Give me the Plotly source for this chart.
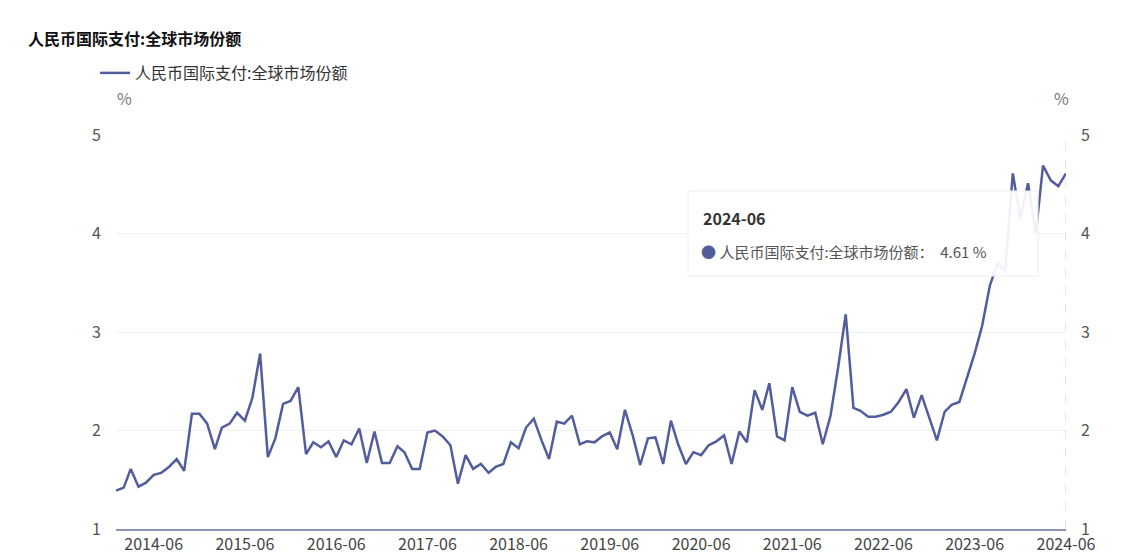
import plotly.graph_objects as go
import pandas as pd

months = pd.date_range("2014-01-01", "2024-06-01", freq="MS").strftime("%Y-%m-%d").tolist()
share = [
1.39,1.42,1.61,1.43,1.47,1.55,1.57,1.63,1.71,1.59,2.17,2.17,
2.07,1.81,2.03,2.07,2.18,2.10,2.33,2.78,1.73,1.92,2.27,2.30,
2.44,1.76,1.88,1.83,1.89,1.73,1.90,1.86,2.02,1.67,1.99,1.67,
1.67,1.84,1.78,1.61,1.61,1.98,2.00,1.94,1.85,1.46,1.75,1.61,
1.66,1.57,1.63,1.66,1.88,1.82,2.03,2.12,1.90,1.71,2.09,2.07,
2.15,1.86,1.89,1.88,1.94,1.98,1.81,2.21,1.95,1.65,1.92,1.93,
1.66,2.10,1.86,1.66,1.78,1.75,1.85,1.89,1.95,1.66,1.99,1.88,
2.41,2.21,2.48,1.94,1.90,2.44,2.19,2.15,2.18,1.86,2.15,2.63,
3.18,2.23,2.20,2.14,2.14,2.16,2.19,2.29,2.42,2.13,2.36,2.14,
1.90,2.19,2.26,2.29,2.54,2.78,3.06,3.47,3.70,3.62,4.61,4.15,
4.51,4.00,4.69,4.54,4.48,4.61]
tick_vals = [f"{y}-06-01" for y in range(2014, 2025)]
tick_text = [f"{y}-06" for y in range(2014, 2025)]
name = "人民币国际支付:全球市场份额"

fig = go.Figure()
fig.add_trace(go.Scatter(x=months, y=share, mode="lines", name=name,
                         line=dict(color="#515d9c", width=2.5)))
fig.add_trace(go.Scatter(x=months, y=share, yaxis="y2", mode="lines", showlegend=False,
                         line=dict(width=0), hoverinfo="skip", opacity=0))
fig.add_shape(type="line", x0=months[-1], x1=months[-1], y0=1, y1=5, xref="x", yref="y",
              line=dict(color="#b8cdf0", width=1, dash="dash"))

fnt = "Noto Sans CJK SC, sans-serif"
ax = dict(range=[1, 5], tickvals=[1, 2, 3, 4, 5], showline=False, zeroline=False,
          gridcolor="#eef0f6", tickfont=dict(size=16, color="#555"), ticks="",
          automargin=False)
fig.update_layout(
    width=1140, height=559, margin=dict(l=108, r=82, t=127, b=38, autoexpand=False),
    plot_bgcolor="white", paper_bgcolor="white", font=dict(family=fnt, color="#333"),
    xaxis=dict(range=[months[0], months[-1]], tickvals=tick_vals, ticktext=tick_text,
               showgrid=False, showline=True, linecolor="#8a93b8", linewidth=2,
               ticks="", tickfont=dict(size=16, color="#444"), automargin=False),
    yaxis=dict(**ax, ticklabelstandoff=14),
    yaxis2=dict(**ax, overlaying="y", side="right", showgrid=False, ticklabelstandoff=14),
    showlegend=True,
    legend=dict(x=-0.022, y=(521-65)/394, xanchor="left", yanchor="middle", orientation="h",
                font=dict(size=16, color="#333")),
    hovermode="x",
)
anns = [
    dict(text="<b>人民币国际支付:全球市场份额</b>", x=-90/950, y=(521-30)/394, font=dict(size=16, color="#111"), xanchor="left"),
    dict(text="%", x=8/950, y=(521-90)/394, font=dict(size=16, color="#777"), xanchor="center"),
    dict(text="%", x=(1053-108)/950, y=(521-90)/394, font=dict(size=16, color="#777"), xanchor="center"),
    dict(text="<b>2024-06</b>", x=(693-108)/950, y=(521-210)/394, font=dict(size=16, color="#333"), xanchor="left"),
    dict(text="<span style='color:#515d9c'>●</span> 人民币国际支付:全球市场份额：  4.61 %", x=(691-108)/950,
         y=(521-243)/394, font=dict(size=15, color="#555"), xanchor="left"),
]
for a in anns:
    fig.add_annotation(xref="paper", yref="paper", showarrow=False, yanchor="middle", **a)
fig.add_shape(type="rect", xref="paper", yref="paper", x0=(680-108)/950, x1=(1030-108)/950,
              y0=(521-268)/394, y1=(521-183)/394, fillcolor="rgba(255,255,255,0.92)",
              line=dict(color="#eeeeee", width=1), layer="above")
fig.write_html("out.html")
